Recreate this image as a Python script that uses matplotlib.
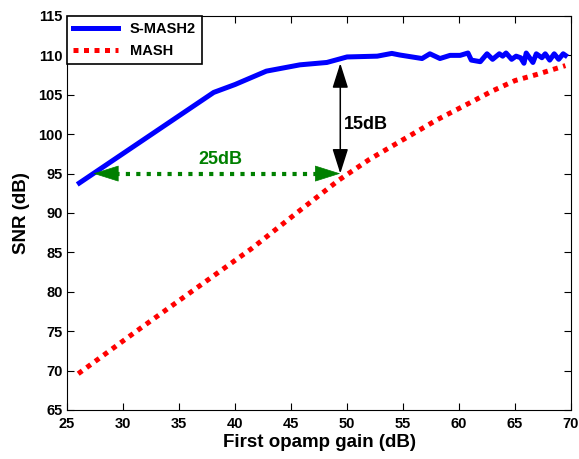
import matplotlib
matplotlib.use('Agg')
import matplotlib.pyplot as plt

plt.rcParams['font.family'] = ['Liberation Sans', 'DejaVu Sans']
plt.rcParams['font.weight'] = 'bold'

# S-MASH2 curve
smash_x = [26.1, 38.1, 40, 42.8, 45.8, 48.2, 50.0, 52.7, 54.0, 54.7,
           56.7, 57.4, 58.3, 59.2, 60.1, 60.8, 61.1, 61.9, 62.5, 63.0, 63.6, 63.9,
           64.2, 64.7, 65.1, 65.5, 65.8, 66.0, 66.6, 66.9, 67.4, 67.7, 68.1, 68.5,
           68.9, 69.3, 69.5]
smash_y = [93.8, 105.3, 106.3, 108.0, 108.8, 109.1, 109.8, 109.9,
           110.25, 110.05, 109.6, 110.2, 109.6, 110.0, 110.0, 110.3, 109.4, 109.2, 110.2,
           109.5, 110.2, 109.9, 110.3, 109.5, 109.9, 109.7, 109.0, 110.3, 109.1, 110.2,
           109.7, 110.2, 109.4, 110.2, 109.5, 110.2, 110.0]

# MASH curve
mash_x = [26, 31.2, 36.1, 41.5, 45.5, 49.3, 52, 55, 58, 61, 63, 65, 67, 69.5]
mash_y = [69.6, 75.0, 80.0, 85.5, 90.0, 94.2, 96.8, 99.3, 101.8, 104.0, 105.5, 106.8, 107.6, 108.7]

# annotations
gap_x, gap_top, gap_bot = 49.4, 109.0, 95.0
shift_y, shift_left, shift_right = 95.0, 27.35, 49.4

fig = plt.figure(figsize=(5.79, 4.59), dpi=100)
ax = fig.add_axes([0.1157, 0.1068, 0.8705, 0.8584])

ax.plot(smash_x, smash_y, color='#0000ff', lw=3.6, label='S-MASH2', solid_joinstyle='round')
ax.plot(mash_x, mash_y, color='#ff0000', lw=3.6, ls=(0, (1, 1.1)), label='MASH')

# 15dB vertical double arrow
ax.annotate('', xy=(gap_x, gap_top), xytext=(gap_x, gap_bot),
            arrowprops=dict(arrowstyle='<|-|>,head_length=0.85,head_width=0.27',
                            color='black', lw=1.1, mutation_scale=18, shrinkA=0, shrinkB=0))
ax.text(gap_x + 0.35, 101.2, '15dB', fontsize=13, fontweight='bold', color='black',
        ha='left', va='center')

# 25dB horizontal dotted double arrow
ax.plot([shift_left + 1.0, shift_right - 1.0], [shift_y, shift_y], color='#008000',
        lw=3, ls=(0, (1, 1.5)))
for tip, tail in [(shift_left, shift_left + 1.8), (shift_right, shift_right - 1.8)]:
    ax.annotate('', xy=(tip, shift_y), xytext=(tail, shift_y),
                arrowprops=dict(arrowstyle='-|>,head_length=0.95,head_width=0.3',
                                color='#008000', lw=0.5, mutation_scale=18,
                                shrinkA=0, shrinkB=0))
ax.text(38.7, 96.8, '25dB', fontsize=13, fontweight='bold', color='#008000',
        ha='center', va='center')

ax.set_xlim(25, 70)
ax.set_ylim(65, 115)
ax.set_xticks(range(25, 71, 5))
ax.set_yticks(range(65, 116, 5))
ax.tick_params(direction='in', top=True, right=True, labelsize=10.5, length=5, width=0.8)
ax.tick_params(axis='x', pad=5)
ax.tick_params(axis='y', pad=3)
for lab in ax.get_xticklabels() + ax.get_yticklabels():
    lab.set_fontweight('bold')
ax.set_xlabel('First opamp gain (dB)', fontsize=13.5, fontweight='bold', labelpad=2)
ax.set_ylabel('SNR (dB)', fontsize=13.5, fontweight='bold', labelpad=6)

leg = ax.legend(loc='upper left', fontsize=10.5, handlelength=3.1, borderaxespad=0,
                labelspacing=0.55, fancybox=False, edgecolor='black', framealpha=1)
leg.get_frame().set_linewidth(1.2)
for t in leg.get_texts():
    t.set_fontweight('bold')

fig.savefig('out.png', dpi=100)
